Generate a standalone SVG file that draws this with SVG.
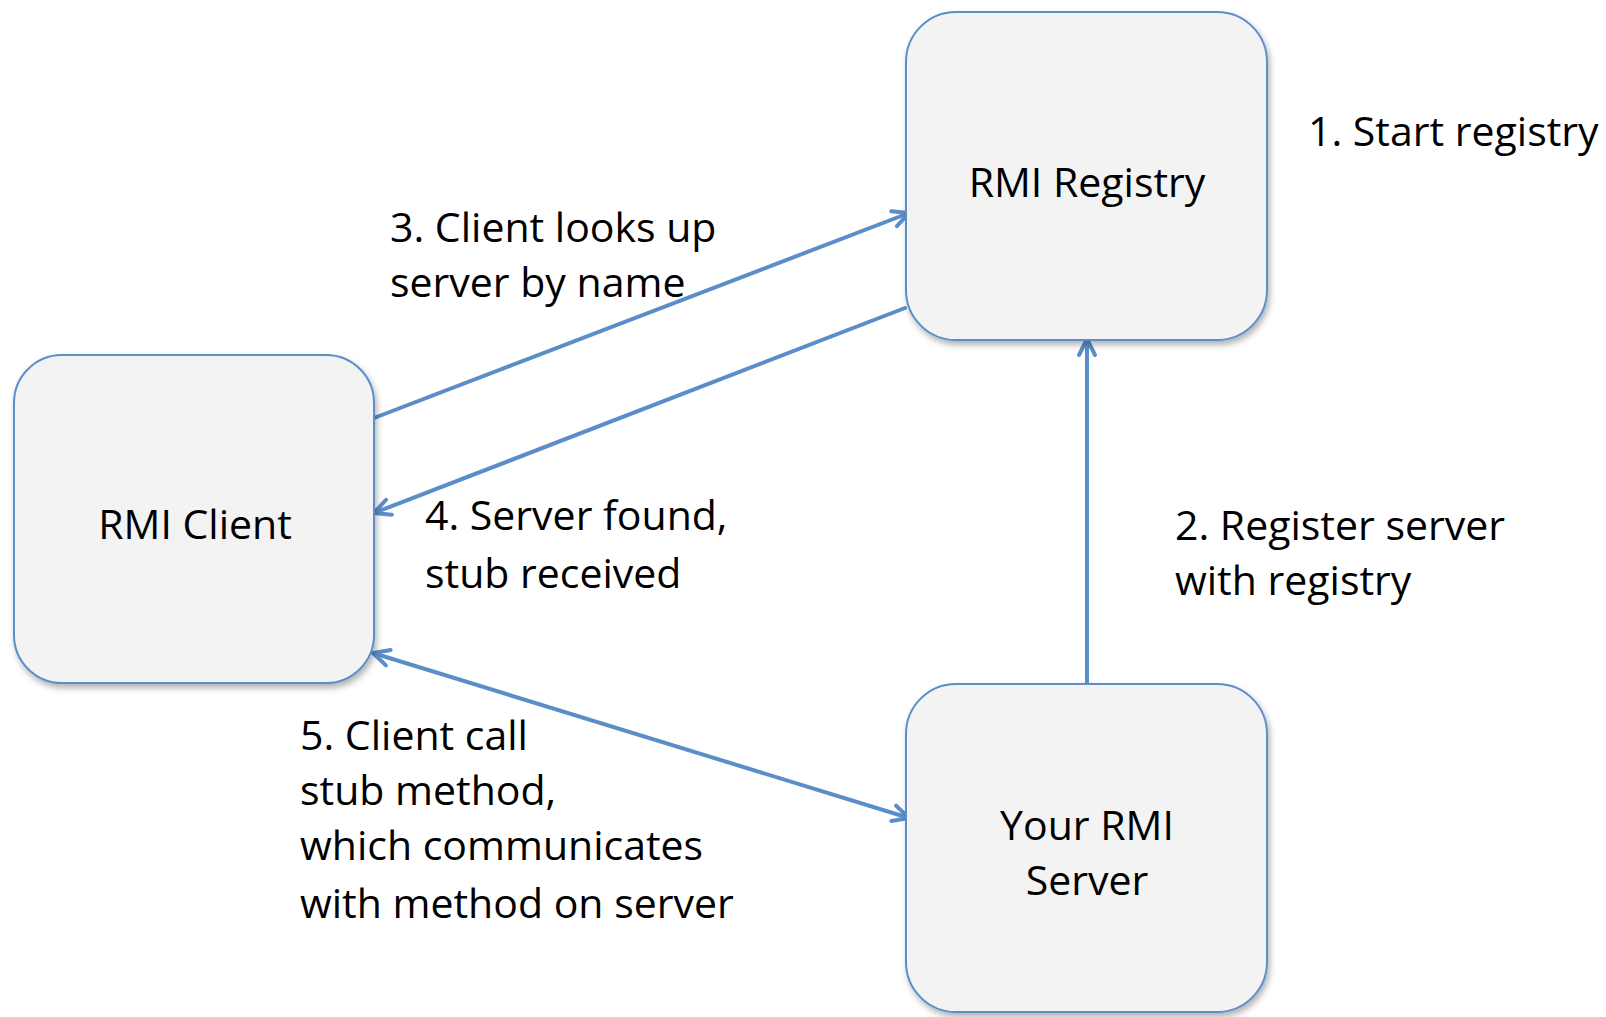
<svg xmlns="http://www.w3.org/2000/svg" width="1606" height="1017" viewBox="0 0 1606 1017">
<style>
.box{fill:#f3f3f3;stroke:#5b8ec8;stroke-width:2;filter:url(#sh)}
.t{font-family:"Open Sans","Noto Sans",sans-serif;font-size:41px;fill:#000}
.c{text-anchor:middle}
.ln{stroke:#5b8ec8;stroke-width:4;fill:none;stroke-linecap:round}
</style>
<defs>
<filter id="sh" x="-10%" y="-10%" width="125%" height="125%">
<feDropShadow dx="2" dy="4" stdDeviation="3" flood-color="#000" flood-opacity="0.3"/>
</filter>
<marker id="ah" viewBox="0 0 24 24" refX="20" refY="12" markerWidth="24" markerHeight="24" markerUnits="userSpaceOnUse" orient="auto-start-reverse">
<path d="M4,4 L20,12 L4,20" fill="none" stroke="#5b8ec8" stroke-width="4" stroke-linecap="round" stroke-linejoin="round"/>
</marker>
</defs>
<rect width="1606" height="1017" fill="#fff"/>
<g id="connectors">
<line class="ln" x1="374" y1="418" x2="909" y2="213" marker-end="url(#ah)"/>
<line class="ln" x1="905" y1="308" x2="374" y2="513" marker-end="url(#ah)"/>
<line class="ln" x1="1087" y1="684" x2="1087" y2="339" marker-end="url(#ah)"/>
<line class="ln" x1="373" y1="653" x2="909" y2="818" marker-start="url(#ah)" marker-end="url(#ah)"/>
</g>
<g id="registry">
<rect class="box" x="906" y="12" width="361" height="328" rx="50"/>
<text class="t c" x="1087" y="197">RMI Registry</text>
</g>
<g id="client">
<rect class="box" x="14" y="355" width="360" height="328" rx="48"/>
<text class="t c" x="195" y="539">RMI Client</text>
</g>
<g id="server">
<rect class="box" x="906" y="684" width="361" height="328" rx="50"/>
<text class="t c" x="1087" y="840">Your RMI</text>
<text class="t c" x="1087" y="895">Server</text>
</g>
<g id="labels">
<text class="t" x="1308" y="146">1. Start registry</text>
<text class="t" x="1175" y="540">2. Register server</text>
<text class="t" x="1175" y="595">with registry</text>
<text class="t" x="390" y="242">3. Client looks up</text>
<text class="t" x="390" y="297">server by name</text>
<text class="t" x="425" y="530">4. Server found,</text>
<text class="t" x="425" y="588">stub received</text>
<text class="t" x="300" y="750">5. Client call</text>
<text class="t" x="300" y="805">stub method,</text>
<text class="t" x="300" y="860">which communicates</text>
<text class="t" x="300" y="918">with method on server</text>
</g>
</svg>
